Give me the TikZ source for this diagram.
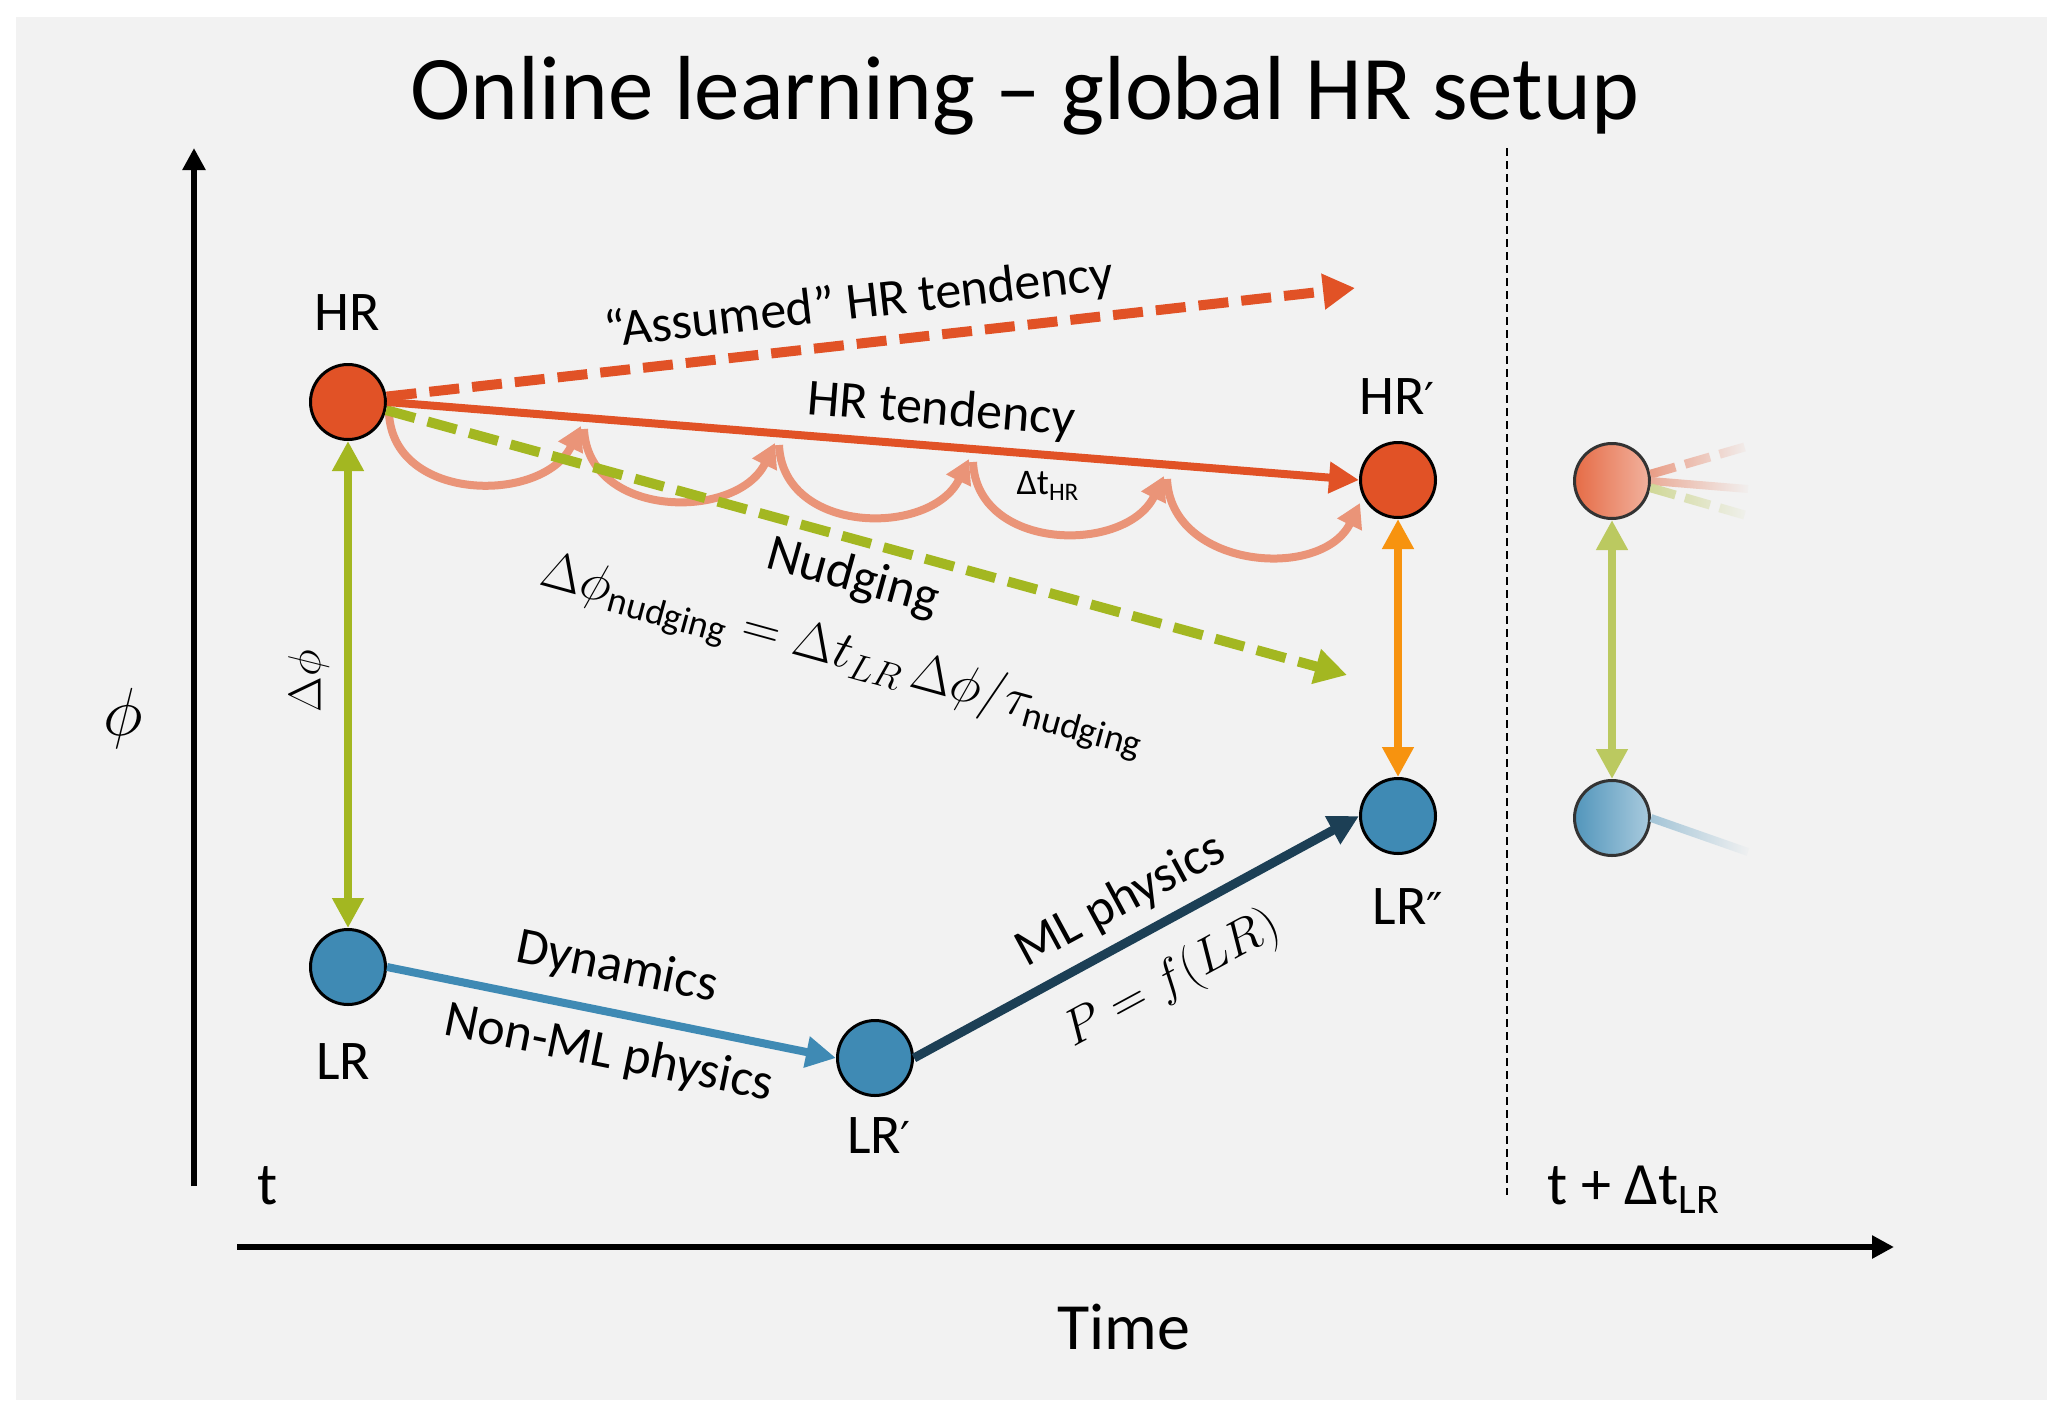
\RequirePackage{fix-cm}
\documentclass[tikz,border=0pt]{standalone}
\usepackage{fontspec}
\setmainfont{Carlito}
\newfontfamily\dejavu{DejaVu Sans}
\usetikzlibrary{arrows.meta,fadings,calc}
\tikzfading[name=fadeR, left color=transparent!0, right color=transparent!100]
\definecolor{bg}{HTML}{F2F2F2}
\definecolor{hrred}{HTML}{E15226}
\definecolor{lrblue}{HTML}{3F8AB4}
\definecolor{navy}{HTML}{1C3F55}
\definecolor{olive}{HTML}{A3B721}
\definecolor{orng}{HTML}{F7930F}
\definecolor{salmon}{HTML}{EA9478}
\newcommand{\pr}{{\dejavu\fontsize{22}{26}\selectfont ′}}
\newcommand{\ppr}{{\dejavu\fontsize{22}{26}\selectfont ″}}
\tikzset{
  hrnode/.style={circle, draw=black, line width=1.5pt, fill=hrred, minimum size=37.5pt, inner sep=0pt},
  lrnode/.style={circle, draw=black, line width=1.5pt, fill=lrblue, minimum size=37.5pt, inner sep=0pt},
  fhrnode/.style={circle, draw=black!80, line width=1.5pt, left color=hrred!85!white, right color=hrred!45!white, minimum size=37.5pt, inner sep=0pt},
  flrnode/.style={circle, draw=black!80, line width=1.5pt, left color=lrblue!90!white, right color=lrblue!45!white, minimum size=37.5pt, inner sep=0pt},
  lbl/.style={font=\fontsize{28}{32}\selectfont},
  midlbl/.style={font=\fontsize{26}{30}\selectfont},
  axlbl/.style={font=\fontsize{30}{34}\selectfont},
  tip/.style={-{Triangle[length=15pt,width=15pt]}},
  bigtip/.style={-{Triangle[length=16pt,width=17pt]}},
  bothtips/.style={{Triangle[length=15pt,width=15pt]}-{Triangle[length=15pt,width=15pt]}},
  hop/.style={salmon, line width=4pt, -{Triangle[length=12pt,width=13pt]}},
  dashln/.style={dash pattern=on 15pt off 6.5pt},
}
\begin{document}
\begin{tikzpicture}[x=0.5pt,y=-0.5pt]
\useasboundingbox (0,0) rectangle (2067,1419);
\fill[white] (0,0) rectangle (2067,1419);
\fill[bg] (16,17) rectangle (2047,1400);

% title
\node[font=\fontsize{45.5}{50}\selectfont, anchor=base] (title) at (1025,119) {Online learning – global HR setup};

% axes
\coordinate (yb) at (194,1186);
\coordinate (yt) at (194,148);
\coordinate (xl) at (237,1247);
\coordinate (xr) at (1894,1247);
\draw[line width=3pt, -{Triangle[length=11pt,width=11pt]}] (yb) -- (yt);
\draw[line width=3pt, -{Triangle[length=11pt,width=11pt]}] (xl) -- (xr);
\node[font=\fontsize{34}{38}\selectfont] (phi) at (123,718) {$\phi$};
\node[font=\fontsize{33}{37}\selectfont] (time) at (1124,1327) {Time};
\node[axlbl] (t0) at (268,1186) {t};
\node[axlbl] (t1) at (1634,1190) {t + Δt\textsubscript{LR}};

% dashed separator
\coordinate (sept) at (1507,148);
\coordinate (sepb) at (1507,1195);
\draw[line width=1pt, dash pattern=on 4pt off 2.5pt] (sept) -- (sepb);

% nodes
\node[hrnode] (HR) at (348,402) {};
\node[lrnode] (LR) at (348,967) {};
\node[lrnode] (LR1) at (875,1058) {};
\node[lrnode] (LR2) at (1398,816) {};
\node[hrnode] (HR1) at (1398,480) {};
\node[lbl] (HRl) at (347,313) {HR};
\node[lbl] (HR1l) at (1397,397) {HR\pr};
\node[lbl] (LRl) at (343,1062) {LR};
\node[lbl] (LR1l) at (879,1136) {LR\pr};
\node[lbl] (LR2l) at (1408,907) {LR\ppr};

% HR time-step hops
\coordinate (s1) at (389,413);
\coordinate (e1) at (581,426);
\coordinate (s2) at (584,429);
\coordinate (e2) at (775,443);
\coordinate (s3) at (779,445);
\coordinate (e3) at (969,459);
\coordinate (s4) at (973,462);
\coordinate (e4) at (1164,476);
\coordinate (s5) at (1167,479);
\coordinate (e5) at (1360,503);
\foreach \i in {1,...,5}{
  \draw[hop] (s\i) .. controls ($(s\i)+(4,90)$) and ($(e\i)+(-38,78)$) .. (e\i);
}
\node[font=\fontsize{18}{20}\selectfont] (dthr) at (1048,486) {Δt\textsubscript{HR}};

% nudging (green dashed)
\coordinate (nudge) at (1347,675);
\draw[olive, line width=5pt, dashln, bigtip] (HR.-12) -- (nudge);
% assumed HR tendency
\coordinate (assumed) at (1355,288);
\draw[hrred, line width=5pt, dashln, bigtip] (HR.8) -- (assumed);
% HR tendency
\draw[hrred, line width=4pt, tip] (HR.east) -- (HR1.west);

\node[midlbl, rotate=6.5] (assl) at (859,304) {“Assumed” HR tendency};
\node[midlbl, rotate=-4.6] (hrtl) at (941,411) {HR tendency};
\node[midlbl, rotate=-15.4] (nudl) at (853,578) {Nudging};
\node[font=\fontsize{26.5}{30}\selectfont, rotate=-15.4] (form) at (843,655) {$\Delta\phi_{\mathrm{nudging}} = \Delta t_{LR}\,\Delta\phi/\tau_{\mathrm{nudging}}$};

% vertical differences
\draw[olive, line width=4pt, bothtips] (HR.south) -- (LR.north);
\node[font=\fontsize{23}{28}\selectfont, rotate=90] (dphi) at (309,681) {$\Delta\phi$};
\draw[orng, line width=4pt, bothtips] (HR1.south) -- (LR2.north);

% LR path
\draw[lrblue, line width=4pt, tip] (LR.east) -- (LR1.west);
\draw[navy, line width=4.5pt, tip] (LR1.east) -- (LR2.west);
\node[midlbl, rotate=-11.4] (dyn) at (617,968) {Dynamics};
\node[midlbl, rotate=-11.4] (nonml) at (609,1054) {Non-ML physics};
\node[midlbl, rotate=28.4] (mlp) at (1121,901) {ML physics};
\node[font=\fontsize{25}{30}\selectfont, rotate=28.4] (pf) at (1172,980) {$P=f(LR)$};

% faded next step
\coordinate (fa) at (1748,446);
\coordinate (fb) at (1748,489);
\coordinate (fc) at (1748,516);
\coordinate (fd) at (1748,852);
\node[fhrnode] (HRf) at (1612,481) {};
\node[flrnode] (LRf) at (1612,818) {};
\draw[hrred!55!bg, line width=4.5pt, dash pattern=on 13pt off 5pt, path fading=fadeR] (HRf.10) -- (fa);
\draw[hrred!45!bg, line width=4pt, path fading=fadeR] (HRf.east) -- (fb);
\draw[olive!45!bg, line width=4.5pt, dash pattern=on 13pt off 5pt, path fading=fadeR] (HRf.-10) -- (fc);
\draw[lrblue!45!bg, line width=4pt, path fading=fadeR] (LRf.east) -- (fd);
\draw[olive!70!bg, line width=4pt, bothtips] (HRf.south) -- (LRf.north);
\end{tikzpicture}
\end{document}
